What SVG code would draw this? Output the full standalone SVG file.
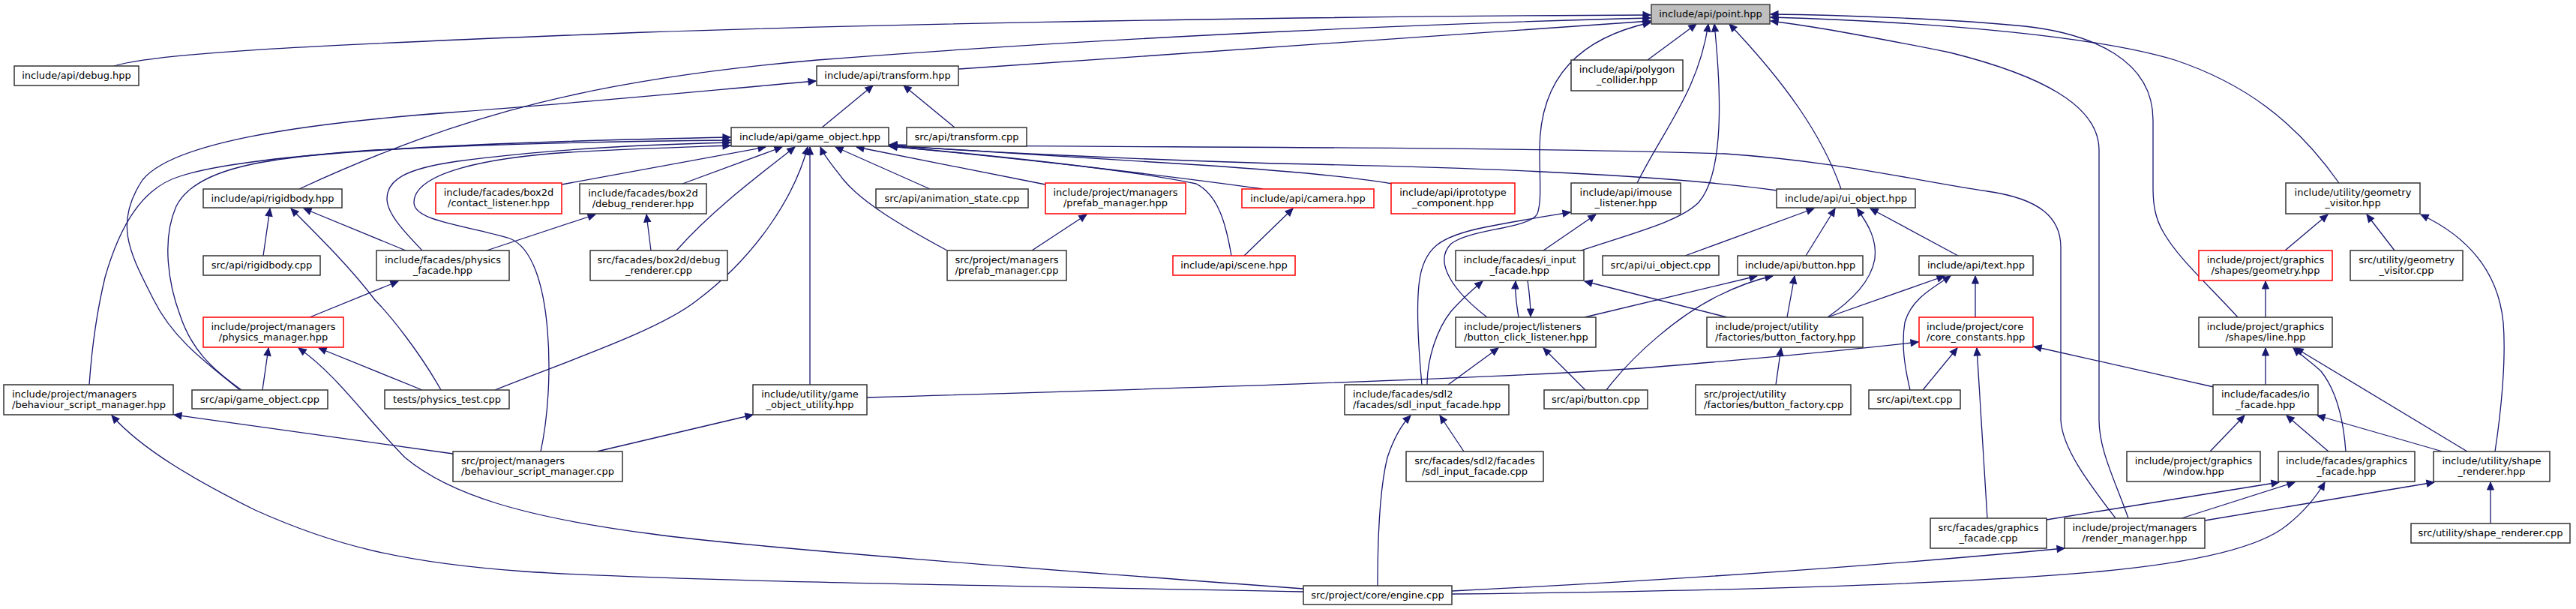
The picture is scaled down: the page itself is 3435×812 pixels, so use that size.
<svg xmlns="http://www.w3.org/2000/svg" width="3435" height="812" viewBox="0 0 3435 812">
<style>
.node rect{fill:#fff;stroke:#333;stroke-width:1.5}
.node.red rect{stroke:#f00}
.node.root rect{fill:#bfbfbf;stroke:#404040}
text{font-family:"DejaVu Sans","Liberation Sans",sans-serif;font-size:13px;fill:#000}
.c{text-anchor:middle}
.edges path{fill:none;stroke:#191970;stroke-width:1.3;marker-end:url(#ah)}
</style>
<defs>
<marker id="ah" markerUnits="userSpaceOnUse" markerWidth="12" markerHeight="10" refX="10" refY="4.5" orient="auto" overflow="visible">
<path d="M0,0 L10,4.5 L0,9 z" fill="#191970" stroke="#191970" stroke-width="1"/>
</marker>
</defs>
<rect width="3435" height="812" fill="#fff"/>
<g class="edges">
<path d="M152,88 C210,70 420,60 860,43 C1300,28 1900,21 2201,20"/>
<path d="M399,252 C620,150 800,105 1090,80 C1500,48 1950,30 2201,24"/>
<path d="M1279,92 L2201,28"/>
<path d="M2197,80 L2262,32"/>
<path d="M1983,423 C1940,390 1910,350 1935,325 C1960,305 2040,305 2050,285 C2056,268 2053,240 2053,200 C2053,100 2110,50 2201,30"/>
<path d="M2183,244 C2220,170 2265,120 2278,32"/>
<path d="M2108,334 C2180,310 2240,295 2265,270 C2300,230 2295,120 2286,32"/>
<path d="M2455,252 C2430,180 2380,110 2306,32"/>
<path d="M2984,423 C2945,380 2905,345 2885,310 C2873,290 2871,270 2871,250 L2871,160 C2871,80 2790,45 2700,35 C2600,25 2450,20 2361,19"/>
<path d="M3119,244 C3060,160 2990,110 2900,80 C2800,50 2600,30 2361,23"/>
<path d="M2838,691 C2820,640 2799,600 2799,560 L2799,200 C2799,140 2720,100 2600,70 C2500,50 2420,35 2361,28"/>
<path d="M320,520 C270,480 230,450 205,400 C175,340 150,300 190,240 C230,190 400,165 600,150 C800,135 950,120 1088,108"/>
<path d="M1096,170 L1164,114"/>
<path d="M1273,170 L1205,114"/>
<path d="M119,513 C122,470 128,420 140,370 C160,300 190,250 240,235 C330,205 600,190 974,183"/>
<path d="M322,520 C280,490 255,465 240,420 C225,380 215,320 235,275 C260,225 350,210 500,200 C700,190 850,188 974,187"/>
<path d="M563,334 C540,310 516,285 516,265 C516,240 540,225 610,215 C720,200 850,193 974,190"/>
<path d="M721,602 C730,560 735,500 730,440 C725,380 710,330 680,318 C620,300 552,295 552,270 C552,230 650,210 760,203 C850,198 920,196 974,194"/>
<path d="M749,246 L1021,196"/>
<path d="M910,245 L1043,196"/>
<path d="M902,334 C950,280 1010,235 1060,196"/>
<path d="M660,520 C760,480 880,440 930,400 C1010,340 1060,260 1077,196"/>
<path d="M1080,513 L1080,196"/>
<path d="M1263,334 C1200,300 1150,270 1125,240 C1110,220 1100,210 1094,196"/>
<path d="M1240,252 L1114,196"/>
<path d="M1394,246 L1142,196"/>
<path d="M1684,252 C1600,240 1400,215 1186,195"/>
<path d="M1642,341 C1635,300 1625,260 1595,245 C1500,225 1300,205 1186,195"/>
<path d="M2821,691 C2790,650 2750,600 2748,560 L2748,330 C2748,290 2720,265 2650,255 C2550,240 2450,215 2300,205 C2000,195 1500,197 1186,193"/>
<path d="M2370,254 C2200,230 1900,222 1700,218 C1500,212 1300,202 1186,194"/>
<path d="M1856,245 C1800,235 1720,228 1600,220 C1450,210 1300,200 1186,194"/>
<path d="M351,341 L360,278"/>
<path d="M588,520 C560,470 520,420 500,400 C470,360 430,320 388,278"/>
<path d="M541,334 L405,278"/>
<path d="M413,423 L531,375"/>
<path d="M649,334 L794,286"/>
<path d="M868,334 L862,286"/>
<path d="M1376,334 L1449,286"/>
<path d="M1659,341 L1724,278"/>
<path d="M2058,334 L2128,286"/>
<path d="M1896,513 C1892,470 1888,420 1892,380 C1897,330 1920,315 1980,303 C2030,293 2070,287 2094,283"/>
<path d="M1903,513 C1903,480 1915,440 1935,415 C1950,398 1965,385 1977,375"/>
<path d="M2025,423 C2022,405 2020,390 2021,375"/>
<path d="M2303,423 L2113,375"/>
<path d="M2037,374 C2040,395 2041,410 2041,422"/>
<path d="M1931,513 L1998,464"/>
<path d="M2114,520 L2058,464"/>
<path d="M2113,423 L2343,368"/>
<path d="M2142,520 C2180,470 2240,420 2290,395 C2320,380 2345,372 2364,368"/>
<path d="M2383,423 L2393,368"/>
<path d="M2247,341 L2419,278"/>
<path d="M2408,341 L2447,278"/>
<path d="M2437,423 C2470,400 2495,375 2500,345 C2503,320 2492,300 2476,278"/>
<path d="M2611,341 L2494,278"/>
<path d="M2437,423 L2593,368"/>
<path d="M2547,520 C2540,490 2535,460 2540,430 C2548,400 2575,385 2601,368"/>
<path d="M2634,423 L2634,368"/>
<path d="M1156,530 C1500,520 2000,505 2200,490 C2380,475 2480,465 2558,456"/>
<path d="M2564,520 L2610,464"/>
<path d="M2650,691 L2636,464"/>
<path d="M2952,516 L2712,462"/>
<path d="M3047,334 L3104,286"/>
<path d="M3193,334 L3156,286"/>
<path d="M3327,602 C3335,550 3342,480 3338,430 C3332,370 3300,320 3228,286"/>
<path d="M3021,423 L3021,375"/>
<path d="M3021,513 L3021,464"/>
<path d="M3128,602 C3125,560 3115,520 3095,495 C3085,485 3070,475 3058,464"/>
<path d="M3290,602 L3061,464"/>
<path d="M2947,602 L2993,554"/>
<path d="M3105,602 L3049,554"/>
<path d="M3257,602 L3090,554"/>
<path d="M2729,693 L3039,643"/>
<path d="M2909,691 L3060,643"/>
<path d="M1936,792 C2300,788 2600,780 2800,762 C2950,748 3020,725 3050,700 C3075,680 3090,660 3100,643"/>
<path d="M2940,694 L3246,643"/>
<path d="M3321,698 L3321,643"/>
<path d="M1936,788 C2200,775 2500,755 2753,731"/>
<path d="M1952,602 L1920,554"/>
<path d="M1837,781 C1837,720 1840,650 1850,610 C1860,580 1870,565 1881,554"/>
<path d="M604,605 L232,553"/>
<path d="M1738,789 C1300,780 900,775 700,762 C530,750 440,725 340,680 C260,640 190,600 149,554"/>
<path d="M350,520 L358,464"/>
<path d="M563,520 L425,464"/>
<path d="M1738,785 C1400,760 1000,730 870,712 C700,690 600,660 540,610 C490,560 450,500 398,464"/>
<path d="M796,602 L1004,553"/>
<path d="M2368,513 L2375,464"/>
</g>
<g id="n_point" class="node root"><rect x="2202" y="6" width="158" height="26"/><text class="c" x="2281" y="22.5">include/api/point.hpp</text></g>
<g id="n_debug" class="node"><rect x="19" y="88" width="166" height="26"/><text class="c" x="102" y="104.5">include/api/debug.hpp</text></g>
<g id="n_transform_hpp" class="node"><rect x="1089" y="88" width="189" height="26"/><text class="c" x="1183.5" y="104.5">include/api/transform.hpp</text></g>
<g id="n_polygon" class="node"><rect x="2095" y="80" width="149" height="41"/><text class="c" x="2169.5" y="96.7">include/api/polygon</text><text class="c" x="2169.5" y="111">_collider.hpp</text></g>
<g id="n_go_hpp" class="node"><rect x="975" y="170" width="210" height="25"/><text class="c" x="1080" y="186.5">include/api/game_object.hpp</text></g>
<g id="n_transform_cpp" class="node"><rect x="1209" y="170" width="160" height="25"/><text class="c" x="1289" y="186.5">src/api/transform.cpp</text></g>
<g id="n_rigidbody_hpp" class="node"><rect x="271" y="252" width="185" height="25"/><text class="c" x="363.5" y="268.5">include/api/rigidbody.hpp</text></g>
<g id="n_contact" class="node red"><rect x="581" y="244" width="168" height="41"/><text class="c" x="665" y="260.7">include/facades/box2d</text><text class="c" x="665" y="275">/contact_listener.hpp</text></g>
<g id="n_dbgr_hpp" class="node"><rect x="773" y="245" width="169" height="40"/><text class="c" x="857.5" y="261.7">include/facades/box2d</text><text class="c" x="857.5" y="276">/debug_renderer.hpp</text></g>
<g id="n_anim" class="node"><rect x="1168" y="252" width="203" height="25"/><text class="c" x="1269.5" y="268.5">src/api/animation_state.cpp</text></g>
<g id="n_prefab_hpp" class="node red"><rect x="1394" y="244" width="187" height="41"/><text class="c" x="1487.5" y="260.7">include/project/managers</text><text class="c" x="1487.5" y="275">/prefab_manager.hpp</text></g>
<g id="n_camera" class="node red"><rect x="1656" y="252" width="176" height="25"/><text class="c" x="1744" y="268.5">include/api/camera.hpp</text></g>
<g id="n_iproto" class="node red"><rect x="1855" y="244" width="165" height="41"/><text class="c" x="1937.5" y="260.7">include/api/iprototype</text><text class="c" x="1937.5" y="275">_component.hpp</text></g>
<g id="n_imouse" class="node"><rect x="2095" y="244" width="146" height="41"/><text class="c" x="2168" y="260.7">include/api/imouse</text><text class="c" x="2168" y="275">_listener.hpp</text></g>
<g id="n_uiobj_hpp" class="node"><rect x="2369" y="252" width="185" height="25"/><text class="c" x="2461.5" y="268.5">include/api/ui_object.hpp</text></g>
<g id="n_geovis_hpp" class="node"><rect x="3048" y="244" width="179" height="41"/><text class="c" x="3137.5" y="260.7">include/utility/geometry</text><text class="c" x="3137.5" y="275">_visitor.hpp</text></g>
<g id="n_rigidbody_cpp" class="node"><rect x="271" y="341" width="156" height="26"/><text class="c" x="349" y="357.5">src/api/rigidbody.cpp</text></g>
<g id="n_physfac" class="node"><rect x="502" y="334" width="177" height="40"/><text class="c" x="590.5" y="350.7">include/facades/physics</text><text class="c" x="590.5" y="365">_facade.hpp</text></g>
<g id="n_dbgr_cpp" class="node"><rect x="787" y="334" width="183" height="40"/><text class="c" x="878.5" y="350.7">src/facades/box2d/debug</text><text class="c" x="878.5" y="365">_renderer.cpp</text></g>
<g id="n_prefab_cpp" class="node"><rect x="1263" y="334" width="159" height="40"/><text class="c" x="1342.5" y="350.7">src/project/managers</text><text class="c" x="1342.5" y="365">/prefab_manager.cpp</text></g>
<g id="n_scene" class="node red"><rect x="1564" y="341" width="163" height="26"/><text class="c" x="1645.5" y="357.5">include/api/scene.hpp</text></g>
<g id="n_iinput" class="node"><rect x="1941" y="334" width="171" height="40"/><text class="c" x="2026.5" y="350.7">include/facades/i_input</text><text class="c" x="2026.5" y="365">_facade.hpp</text></g>
<g id="n_uiobj_cpp" class="node"><rect x="2137" y="341" width="155" height="26"/><text class="c" x="2214.5" y="357.5">src/api/ui_object.cpp</text></g>
<g id="n_button_hpp" class="node"><rect x="2317" y="341" width="167" height="26"/><text class="c" x="2400.5" y="357.5">include/api/button.hpp</text></g>
<g id="n_text_hpp" class="node"><rect x="2559" y="341" width="152" height="26"/><text class="c" x="2635" y="357.5">include/api/text.hpp</text></g>
<g id="n_geometry" class="node red"><rect x="2932" y="334" width="178" height="40"/><text class="c" x="3021" y="350.7">include/project/graphics</text><text class="c" x="3021" y="365">/shapes/geometry.hpp</text></g>
<g id="n_geovis_cpp" class="node"><rect x="3134" y="334" width="150" height="40"/><text class="c" x="3209" y="350.7">src/utility/geometry</text><text class="c" x="3209" y="365">_visitor.cpp</text></g>
<g id="n_physmgr" class="node red"><rect x="271" y="423" width="187" height="40"/><text class="c" x="364.5" y="439.7">include/project/managers</text><text class="c" x="364.5" y="454">/physics_manager.hpp</text></g>
<g id="n_bcl" class="node"><rect x="1941" y="423" width="187" height="40"/><text x="1952" y="439.7">include/project/listeners</text><text x="1952" y="454">/button_click_listener.hpp</text></g>
<g id="n_bfac_hpp" class="node"><rect x="2276" y="423" width="208" height="40"/><text x="2287" y="439.7">include/project/utility</text><text x="2287" y="454">/factories/button_factory.hpp</text></g>
<g id="n_core" class="node red"><rect x="2559" y="423" width="152" height="40"/><text x="2569" y="439.7">include/project/core</text><text x="2569" y="454">/core_constants.hpp</text></g>
<g id="n_line" class="node"><rect x="2932" y="423" width="178" height="40"/><text class="c" x="3021" y="439.7">include/project/graphics</text><text class="c" x="3021" y="454">/shapes/line.hpp</text></g>
<g id="n_bsm_hpp" class="node"><rect x="5" y="513" width="226" height="40"/><text x="16" y="529.7">include/project/managers</text><text x="16" y="544">/behaviour_script_manager.hpp</text></g>
<g id="n_go_cpp" class="node"><rect x="256" y="520" width="181" height="25"/><text class="c" x="346.5" y="536.5">src/api/game_object.cpp</text></g>
<g id="n_phystest" class="node"><rect x="513" y="520" width="166" height="25"/><text class="c" x="596" y="536.5">tests/physics_test.cpp</text></g>
<g id="n_gou" class="node"><rect x="1004" y="513" width="152" height="40"/><text class="c" x="1080" y="529.7">include/utility/game</text><text class="c" x="1080" y="544">_object_utility.hpp</text></g>
<g id="n_sdl_hpp" class="node"><rect x="1793" y="513" width="219" height="40"/><text x="1804" y="529.7">include/facades/sdl2</text><text x="1804" y="544">/facades/sdl_input_facade.hpp</text></g>
<g id="n_button_cpp" class="node"><rect x="2059" y="520" width="138" height="25"/><text class="c" x="2128" y="536.5">src/api/button.cpp</text></g>
<g id="n_bfac_cpp" class="node"><rect x="2261" y="513" width="207" height="40"/><text x="2272" y="529.7">src/project/utility</text><text x="2272" y="544">/factories/button_factory.cpp</text></g>
<g id="n_text_cpp" class="node"><rect x="2492" y="520" width="122" height="25"/><text class="c" x="2553" y="536.5">src/api/text.cpp</text></g>
<g id="n_io" class="node"><rect x="2951" y="513" width="140" height="40"/><text class="c" x="3021" y="529.7">include/facades/io</text><text class="c" x="3021" y="544">_facade.hpp</text></g>
<g id="n_bsm_cpp" class="node"><rect x="604" y="602" width="226" height="40"/><text x="615" y="618.7">src/project/managers</text><text x="615" y="633">/behaviour_script_manager.cpp</text></g>
<g id="n_sdl_cpp" class="node"><rect x="1875" y="602" width="183" height="40"/><text class="c" x="1966.5" y="618.7">src/facades/sdl2/facades</text><text class="c" x="1966.5" y="633">/sdl_input_facade.cpp</text></g>
<g id="n_window" class="node"><rect x="2836" y="602" width="178" height="40"/><text class="c" x="2925" y="618.7">include/project/graphics</text><text class="c" x="2925" y="633">/window.hpp</text></g>
<g id="n_gfac_hpp" class="node"><rect x="3038" y="602" width="182" height="40"/><text class="c" x="3129" y="618.7">include/facades/graphics</text><text class="c" x="3129" y="633">_facade.hpp</text></g>
<g id="n_shaper_hpp" class="node"><rect x="3245" y="602" width="155" height="40"/><text class="c" x="3322.5" y="618.7">include/utility/shape</text><text class="c" x="3322.5" y="633">_renderer.hpp</text></g>
<g id="n_gfac_cpp" class="node"><rect x="2574" y="691" width="155" height="40"/><text class="c" x="2651.5" y="707.7">src/facades/graphics</text><text class="c" x="2651.5" y="722">_facade.cpp</text></g>
<g id="n_render" class="node"><rect x="2753" y="691" width="187" height="40"/><text class="c" x="2846.5" y="707.7">include/project/managers</text><text class="c" x="2846.5" y="722">/render_manager.hpp</text></g>
<g id="n_shaper_cpp" class="node"><rect x="3215" y="698" width="212" height="26"/><text class="c" x="3321" y="714.5">src/utility/shape_renderer.cpp</text></g>
<g id="n_engine" class="node"><rect x="1738" y="781" width="198" height="25"/><text class="c" x="1837" y="797.5">src/project/core/engine.cpp</text></g>
</svg>
